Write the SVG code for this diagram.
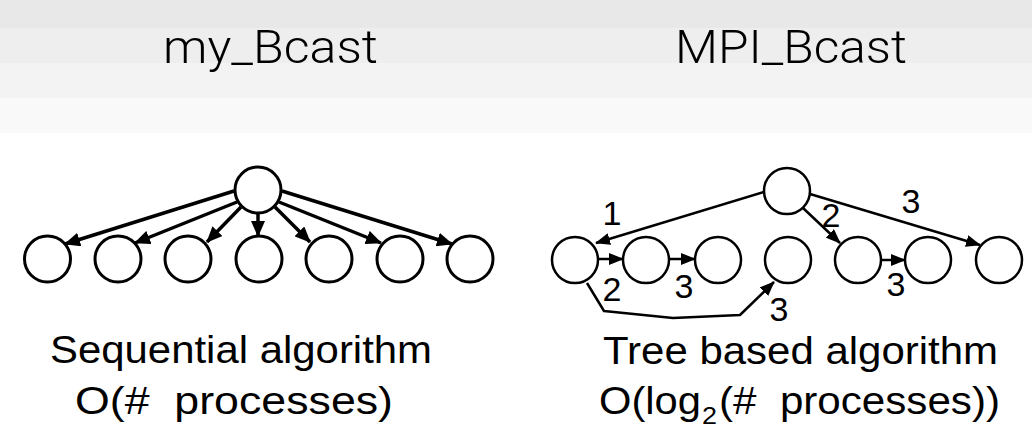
<svg xmlns="http://www.w3.org/2000/svg" width="1032" height="442" viewBox="0 0 1032 442">
  <style>
    .title { font-family: Roboto, "Liberation Sans", sans-serif; font-weight: 300; font-size: 47px; fill: #000; }
    .cap { font-family: "Liberation Sans", Arial, sans-serif; font-size: 38px; fill: #000; white-space: pre; }
    .num { font-family: "Liberation Sans", Arial, sans-serif; font-size: 34px; fill: #000; text-anchor: middle; }
    .nodeL { fill: #fff; stroke: #000; stroke-width: 3; }
    .nodeR { fill: #fff; stroke: #000; stroke-width: 2.5; }
    .edgeL { fill: none; stroke: #000; stroke-width: 3.5; marker-end: url(#arrL); }
    .edgeR { fill: none; stroke: #000; stroke-width: 2.5; marker-end: url(#arrR); stroke-linejoin: round; }
  </style>
  <defs>
    <marker id="arrL" viewBox="0 0 16 14" refX="15" refY="7" markerWidth="16" markerHeight="14" markerUnits="userSpaceOnUse" orient="auto">
      <path d="M0,0 L16,7 L0,14 z" fill="#000"/>
    </marker>
    <marker id="arrR" viewBox="0 0 15 12" refX="14" refY="6" markerWidth="15" markerHeight="12" markerUnits="userSpaceOnUse" orient="auto">
      <path d="M0,0 L15,6 L0,12 z" fill="#000"/>
    </marker>
  </defs>

  <!-- background bands -->
  <rect x="0" y="0" width="1032" height="442" fill="#fff"/>
  <rect x="0" y="0" width="1032" height="28" fill="#e8e8e8"/>
  <rect x="0" y="28" width="1032" height="35" fill="#eeeeee"/>
  <rect x="0" y="63" width="1032" height="35" fill="#f3f3f3"/>
  <rect x="0" y="98" width="1032" height="35" fill="#f9f9f9"/>

  <!-- titles -->
  <text class="title" x="163" y="63" textLength="215" lengthAdjust="spacingAndGlyphs">my_Bcast</text>
  <text class="title" x="675" y="63" textLength="232" lengthAdjust="spacingAndGlyphs">MPI_Bcast</text>

  <!-- connectors -->
  <g id="connectors">
    <line class="edgeL" x1="234" y1="191" x2="65" y2="244"/>
    <line class="edgeL" x1="237" y1="202" x2="135" y2="243"/>
    <line class="edgeL" x1="241" y1="207" x2="207" y2="242"/>
    <line class="edgeL" x1="258" y1="213" x2="258" y2="236"/>
    <line class="edgeL" x1="275" y1="207" x2="310" y2="242"/>
    <line class="edgeL" x1="279" y1="202" x2="381" y2="243"/>
    <line class="edgeL" x1="282" y1="191" x2="452" y2="244"/>

    <line class="edgeR" x1="764" y1="192" x2="596" y2="243"/>
    <line class="edgeR" x1="598" y1="259" x2="623" y2="259"/>
    <line class="edgeR" x1="669" y1="259" x2="695" y2="259"/>
    <line class="edgeR" x1="803" y1="208" x2="840" y2="243"/>
    <line class="edgeR" x1="810" y1="194" x2="980" y2="245"/>
    <line class="edgeR" x1="881" y1="260" x2="905" y2="260"/>
    <polyline class="edgeR" points="587,283 604,311 673,318 740,315 774,282"/>
  </g>

  <!-- left tree nodes -->
  <g id="L-root"><circle class="nodeL" cx="258" cy="190" r="23"/></g>
  <g id="L-1"><circle class="nodeL" cx="47.5" cy="259" r="23"/></g>
  <g id="L-2"><circle class="nodeL" cx="118" cy="259" r="23"/></g>
  <g id="L-3"><circle class="nodeL" cx="188" cy="259" r="23"/></g>
  <g id="L-4"><circle class="nodeL" cx="259" cy="259" r="23"/></g>
  <g id="L-5"><circle class="nodeL" cx="329" cy="259" r="23"/></g>
  <g id="L-6"><circle class="nodeL" cx="400" cy="259" r="23"/></g>
  <g id="L-7"><circle class="nodeL" cx="470" cy="259" r="23"/></g>

  <!-- right tree nodes -->
  <g id="R-root"><circle class="nodeR" cx="787" cy="191" r="23"/></g>
  <g id="R-A"><circle class="nodeR" cx="575" cy="260" r="23"/></g>
  <g id="R-B"><circle class="nodeR" cx="646" cy="260" r="23"/></g>
  <g id="R-C"><circle class="nodeR" cx="718" cy="260" r="23"/></g>
  <g id="R-D"><circle class="nodeR" cx="788" cy="260" r="23"/></g>
  <g id="R-E"><circle class="nodeR" cx="858" cy="260" r="23"/></g>
  <g id="R-F"><circle class="nodeR" cx="928" cy="260" r="23"/></g>
  <g id="R-G"><circle class="nodeR" cx="999" cy="260" r="23"/></g>

  <!-- step labels -->
  <g id="step-labels">
    <text class="num" x="612" y="225">1</text>
    <text class="num" x="612" y="301">2</text>
    <text class="num" x="684" y="298">3</text>
    <text class="num" x="779" y="321">3</text>
    <text class="num" x="831" y="227">2</text>
    <text class="num" x="911" y="213">3</text>
    <text class="num" x="896" y="296">3</text>
  </g>

  <!-- captions -->
  <text class="cap" x="50" y="363" textLength="382" lengthAdjust="spacingAndGlyphs">Sequential algorithm</text>
  <text class="cap" x="75" y="414" textLength="318" lengthAdjust="spacingAndGlyphs">O(#  processes)</text>
  <text class="cap" x="603" y="364" textLength="395" lengthAdjust="spacingAndGlyphs">Tree based algorithm</text>
  <text class="cap" x="599" y="414" textLength="102" lengthAdjust="spacingAndGlyphs">O(log</text>
  <text class="cap" x="702" y="424" style="font-size:24px" textLength="15" lengthAdjust="spacingAndGlyphs">2</text>
  <text class="cap" x="719" y="414" textLength="281" lengthAdjust="spacingAndGlyphs">(#  processes))</text>
</svg>
